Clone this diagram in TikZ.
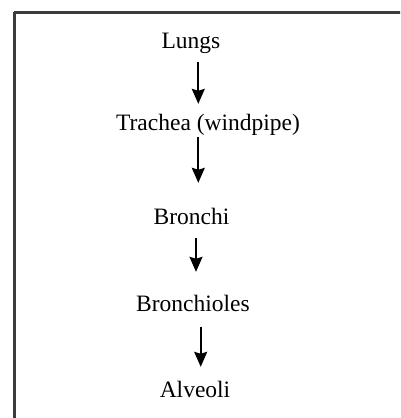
\documentclass[tikz,border=0pt]{standalone}
\usepackage{fontspec}
\setmainfont{Liberation Serif}
\usetikzlibrary{arrows.meta}
\definecolor{boxgray}{HTML}{3C3C3C}
\begin{document}
\begin{tikzpicture}[x=1pt,y=-1pt,
  lbl/.style={anchor=base,inner sep=0pt,font=\fontsize{23.5}{26}\selectfont,text height=16pt,text depth=5pt,inner ysep=10pt},
  arr/.style={line width=1.8pt,-{Stealth[length=15pt,width=13pt,inset=2pt]}}]
\clip (0,0) rectangle (400,418);
\fill[white] (0,0) rectangle (400,418);
\draw[boxgray,line width=3pt] (14,12) -- (430,12);
\draw[boxgray,line width=3pt] (14,12) -- (14,430);
\node[lbl] (lungs) at (191,48) {Lungs};
\node[lbl] (trachea) at (208,130) {Trachea (windpipe)};
\node[lbl] (bronchi) at (191.5,224) {Bronchi};
\node[lbl] (bronchioles) at (193,311) {Bronchioles};
\node[lbl] (alveoli) at (195,397) {Alveoli};
\draw[arr,shorten <=-1pt] (lungs.south -| 198.3,0) -- (trachea.north -| 198.3,0);
\draw[arr,shorten <=-8pt,shorten >=15pt] (trachea.south -| 198.3,0) -- (bronchi.north -| 198.3,0);
\draw[arr,shorten <=-1pt,shorten >=13pt] (bronchi.south -| 196,0) -- (bronchioles.north -| 196,0);
\draw[arr,shorten <=1pt,shorten >=4pt] (bronchioles.south -| 200.7,0) -- (alveoli.north -| 200.7,0);
\end{tikzpicture}
\end{document}
